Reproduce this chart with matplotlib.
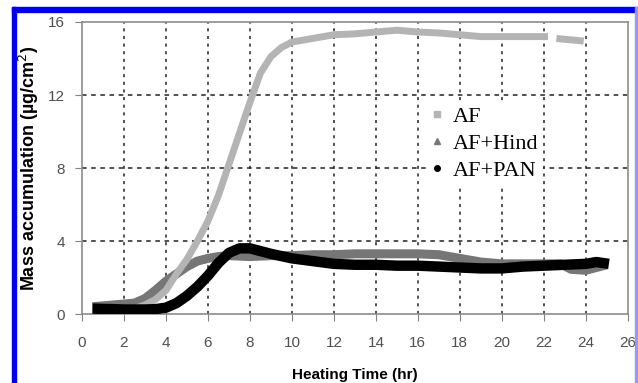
import numpy as np
import matplotlib
matplotlib.use("Agg")
import matplotlib.pyplot as plt
from matplotlib.lines import Line2D
from matplotlib.patches import Rectangle

# values (hr, ug/cm2)
t_af = [0.5, 1, 1.5, 2, 2.5, 3, 3.5, 4, 4.5, 5, 5.5, 6, 6.5, 7, 7.5, 8, 8.5, 9, 9.5,
        10, 11, 12, 13, 14, 15, 16, 17, 18, 19, 20, 21, 22.2]
af = [0.3, 0.3, 0.3, 0.3, 0.3, 0.5, 0.8, 1.3, 2.2, 3.0, 4.0, 5.1, 6.5, 8.2, 9.9,
      11.6, 13.2, 14.1, 14.6, 14.9, 15.1, 15.3, 15.35, 15.45, 15.55, 15.45, 15.4,
      15.3, 15.2, 15.2, 15.2, 15.2]
t_af2 = [22.6, 23, 23.5, 23.9]
af2 = [15.1, 15.05, 15.0, 14.95]

t_hind = [0.5, 1, 1.5, 2, 2.5, 3, 3.5, 4, 4.5, 5, 5.5, 6, 6.5, 7, 8, 9, 10, 11, 12,
          13, 14, 15, 16, 17, 18, 18.5, 19, 20, 21, 22, 22.8, 23.3, 24, 24.5, 25]
hind = [0.4, 0.45, 0.5, 0.55, 0.6, 0.85, 1.3, 1.8, 2.2, 2.6, 2.9, 3.05, 3.15, 3.2,
        3.15, 3.2, 3.2, 3.25, 3.25, 3.3, 3.3, 3.3, 3.3, 3.25, 3.05, 2.95, 2.85, 2.75,
        2.75, 2.75, 2.75, 2.45, 2.4, 2.55, 2.7]

t_pan = [0.5, 1, 1.5, 2, 2.5, 3, 3.5, 4, 4.5, 5, 5.5, 6, 6.5, 7, 7.5, 8, 8.5, 9, 10,
         11, 12, 13, 14, 15, 16, 17, 18, 19, 20, 21, 22, 23, 24, 24.5, 25.1]
pan = [0.3, 0.28, 0.27, 0.25, 0.25, 0.25, 0.27, 0.35, 0.6, 1.0, 1.5, 2.1, 2.8, 3.35,
       3.6, 3.6, 3.45, 3.3, 3.05, 2.9, 2.75, 2.7, 2.7, 2.65, 2.65, 2.6, 2.55, 2.5,
       2.5, 2.6, 2.65, 2.7, 2.75, 2.85, 2.75]

xticks = list(range(0, 27, 2))
yticks = [0, 4, 8, 12, 16]

c_af = "#b4b4b4"
c_hind = "#767676"
c_pan = "#000000"

fig = plt.figure(figsize=(6.38, 3.83), dpi=100)
ax = fig.add_axes([0.1285, 0.18, 0.8555, 0.7626])

ax.plot(t_hind, hind, color=c_hind, lw=6.5, solid_capstyle="butt", zorder=3)
ax.plot(t_af, af, color=c_af, lw=5, solid_capstyle="butt", zorder=4)
ax.plot(t_af2, af2, color=c_af, lw=5, solid_capstyle="butt", zorder=4)
ax.plot(t_pan, pan, color=c_pan, lw=7.5, solid_capstyle="butt", zorder=5)

ax.set_xlim(0, 26)
ax.set_ylim(0, 16)
ax.set_xticks(xticks)
ax.set_yticks(yticks)
ax.tick_params(direction="out", length=5, color="#808080", labelsize=11,
               labelcolor="#505050")
ax.tick_params(axis="x", pad=11)
ax.tick_params(axis="y", pad=7)
for lab in ax.get_xticklabels() + ax.get_yticklabels():
    lab.set_family("Liberation Sans")

for s in ax.spines.values():
    s.set_color("#8c8c8c")
    s.set_linewidth(1.2)

for x in xticks[1:-1]:
    ax.axvline(x, color="#222222", lw=1.1, ls=(0, (2, 3)), zorder=1)
for y in yticks[1:-1]:
    ax.axhline(y, color="#222222", lw=1.1, ls=(0, (3, 3)), zorder=1)

ax.set_xlabel("Heating Time (hr)", fontsize=11, fontweight="bold",
              family="Liberation Sans", labelpad=13)
ax.set_ylabel("Mass accumulation (\u00b5g/cm$^2$)", fontsize=13, fontweight="bold",
              family="Liberation Sans", labelpad=5)

handles = [Line2D([], [], color=c_af, marker="s", ls="none", ms=4),
           Line2D([], [], color=c_hind, marker="^", ls="none", ms=4),
           Line2D([], [], color=c_pan, marker="o", ls="none", ms=4)]
ax.legend(handles, ["AF", "AF+Hind", "AF+PAN"], loc="upper left",
          bbox_to_anchor=(0.61, 0.765), frameon=True, facecolor="white",
          edgecolor="none", framealpha=1, handlelength=0.6, handletextpad=0.4,
          labelspacing=0.3, borderpad=0.2,
          prop={"family": "Liberation Serif", "size": 16})

# blue frame around the figure
fig.patches.append(Rectangle((12 / 638, 0), 4 / 638, 1 - 7 / 383,
                             transform=fig.transFigure, color="#0000ee", zorder=10))
fig.patches.append(Rectangle((12 / 638, 1 - 12 / 383), 1 - 12 / 638, 5 / 383,
                             transform=fig.transFigure, color="#0000ee", zorder=10))
fig.patches.append(Rectangle((635 / 638, 0), 2 / 638, 1 - 7 / 383,
                             transform=fig.transFigure, color="#9999ee", zorder=10))

fig.savefig("out.png", dpi=100)
